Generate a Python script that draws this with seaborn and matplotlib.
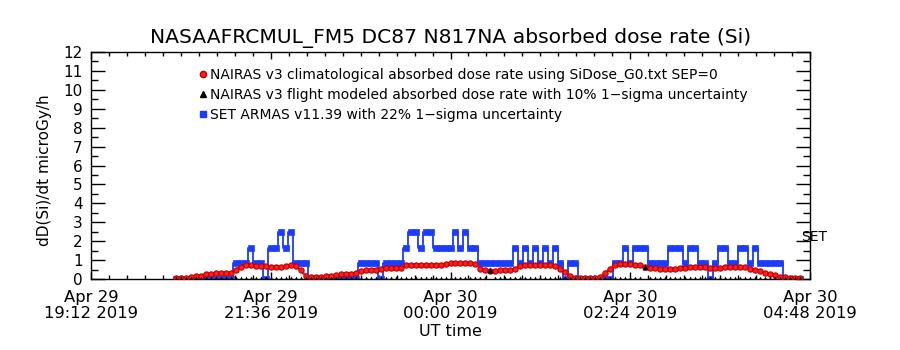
import numpy as np
import pandas as pd
import matplotlib
matplotlib.use("Agg")
import matplotlib.pyplot as plt
import matplotlib.dates as mdates
from matplotlib.ticker import FixedLocator, FixedFormatter, MultipleLocator
from matplotlib.lines import Line2D
import seaborn as sns

# ---------------- data ----------------
title = "NASAAFRCMUL_FM5 DC87 N817NA absorbed dose rate (Si)"
y_label = "dD(Si)/dt microGy/h"
x_label = "UT time"
legend_labels = [
    "NAIRAS v3 climatological absorbed dose rate using SiDose_G0.txt SEP=0",
    "NAIRAS v3 flight modeled absorbed dose rate with 10% 1\u2212sigma uncertainty",
    "SET ARMAS v11.39 with 22% 1\u2212sigma uncertainty",
]
x_start = "2019-04-29 19:12"
x_end = "2019-04-30 04:48"
tick_times = ["2019-04-29 19:12", "2019-04-29 21:36", "2019-04-30 00:00",
              "2019-04-30 02:24", "2019-04-30 04:48"]
tick_labels = ["Apr 29\n19:12 2019", "Apr 29\n21:36 2019", "Apr 30\n00:00 2019",
               "Apr 30\n02:24 2019", "Apr 30\n04:48 2019"]
y_ticks = list(range(0, 13))

sample_start = "2019-04-29 20:20"
sample_step = "4min"

nairas_clim = [
    0.03, 0.05, 0.07, 0.10, 0.14, 0.18, 0.24, 0.28, 0.30, 0.30,
    0.30, 0.33, 0.50, 0.66, 0.72, 0.72, 0.70, 0.68, 0.68, 0.66,
    0.64, 0.66, 0.70, 0.72, 0.68, 0.45, 0.18, 0.10, 0.10, 0.12,
    0.15, 0.18, 0.22, 0.26, 0.28, 0.28, 0.30, 0.40, 0.45, 0.45,
    0.46, 0.52, 0.58, 0.58, 0.58, 0.60, 0.72, 0.76, 0.76, 0.76,
    0.76, 0.76, 0.76, 0.76, 0.78, 0.84, 0.86, 0.86, 0.86, 0.86,
    0.80, 0.55, 0.46, 0.44, 0.44, 0.45, 0.46, 0.48, 0.55, 0.70,
    0.75, 0.74, 0.72, 0.74, 0.74, 0.72, 0.70, 0.55, 0.35, 0.15,
    0.06, 0.04, 0.04, 0.04, 0.05, 0.10, 0.30, 0.55, 0.74, 0.80,
    0.80, 0.78, 0.76, 0.72, 0.66, 0.58, 0.56, 0.54, 0.52, 0.52,
    0.55, 0.58, 0.60, 0.64, 0.66, 0.66, 0.62, 0.56, 0.56, 0.60,
    0.64, 0.66, 0.66, 0.66, 0.62, 0.52, 0.45, 0.40, 0.34, 0.28,
    0.20, 0.12, 0.08, 0.06, 0.06, 0.06,
]

nairas_flight = [
    0, 0, 0, 0, 0, 0, 0, 0, 0, 0,
    0, 0, 0, 0, 0, 0, 0, 0, 0, 0,
    0, 0, 0, 0, 0, 0, 0, 0, 0, 0,
    0, 0, 0, 0, 0, 0, 0, 0, 0, 0,
    0, 0, 0, 0, 0, 0, 0, 0, 0, 0,
    0, 0, 0, 0, 0, 0, 0, 0, 0, 0,
    0, 0, 0, 0.45, 0, 0, 0, 0, 0, 0,
    0, 0, 0, 0, 0, 0, 0, 0, 0, 0,
    0, 0, 0, 0, 0, 0, 0, 0, 0, 0,
    0, 0, 0, 0, 0.62, 0, 0, 0, 0, 0,
    0, 0, 0, 0, 0, 0, 0, 0, 0, 0,
    0, 0, 0, 0, 0, 0, 0, 0, 0, 0,
    0, 0, 0, 0, 0, 0,
]

set_armas = [
    0, 0, 0, 0, 0, 0, 0, 0, 0, 0,
    0, 0, 0.83, 0.83, 0.83, 1.66, 0.83, 0.83, 0, 1.66,
    1.66, 2.49, 1.66, 2.49, 0.83, 0.83, 0.83, 0, 0, 0,
    0, 0, 0, 0, 0, 0, 0, 0.83, 0.83, 0.83,
    0.83, 0, 0.83, 0.83, 0.83, 0.83, 1.66, 2.49, 2.49, 1.66,
    2.49, 2.49, 1.66, 1.66, 1.66, 1.66, 2.49, 1.66, 2.49, 1.66,
    1.66, 0.83, 0.83, 0.83, 0.83, 0.83, 0.83, 0.83, 1.66, 0.83,
    1.66, 0.83, 1.66, 0.83, 1.66, 0.83, 1.66, 0.83, 0, 0.83,
    0.83, 0, 0, 0, 0, 0, 0, 0, 0.83, 0.83,
    1.66, 0.83, 1.66, 1.66, 1.66, 0.83, 0.83, 0.83, 0.83, 1.66,
    1.66, 1.66, 0.83, 1.66, 1.66, 0.83, 0.83, 0, 0.83, 1.66,
    1.66, 0.83, 0.83, 1.66, 1.66, 0.83, 1.66, 0.83, 0.83, 0.83,
    0.83, 0.83, 0, 0, 0, 0,
]

set_label_text = "SET"
set_label_time = "2019-04-30 04:41"
set_label_y = 2.2

# ---------------- styling ----------------
RED = "#ff1e1e"
RED_EDGE = "#c00000"
BLUE = "#1a3cff"

times = pd.date_range(sample_start, periods=len(nairas_clim), freq=sample_step)
df = pd.DataFrame({"time": times, "clim": nairas_clim,
                   "flight": nairas_flight, "set": set_armas})

plt.rcParams["font.family"] = ["DejaVu Sans"]
fig = plt.figure(figsize=(9, 3.5), dpi=100)
ax = fig.add_axes([91 / 900, 71 / 350, 719 / 900, 227 / 350])

sns.lineplot(data=df, x="time", y="set", ax=ax, color=BLUE, lw=1.3,
             drawstyle="steps-mid",
             marker="s", markersize=5.0, markeredgecolor=BLUE,
             markerfacecolor=BLUE, markeredgewidth=0.5, legend=False, zorder=2)
sns.lineplot(data=df, x="time", y="clim", ax=ax, color=RED, lw=1.8,
             marker="o", markersize=3.8, markeredgecolor=RED_EDGE,
             markerfacecolor=RED, markeredgewidth=0.8, legend=False, zorder=3)
sns.scatterplot(data=df, x="time", y="flight", ax=ax, color="black",
                marker="^", s=18, edgecolor="black", linewidth=0,
                legend=False, zorder=4)

ax.set_xlim(pd.Timestamp(x_start), pd.Timestamp(x_end))
ax.set_ylim(0, 12)
ax.set_xlabel("")
ax.set_ylabel("")

ax.xaxis.set_major_locator(FixedLocator(mdates.date2num(pd.to_datetime(tick_times))))
ax.xaxis.set_major_formatter(FixedFormatter(tick_labels))
ax.xaxis.set_minor_locator(MultipleLocator(0.01))
ax.set_yticks(y_ticks)
ax.yaxis.set_minor_locator(MultipleLocator(0.5))

for s in ax.spines.values():
    s.set_linewidth(1.0)
    s.set_color("black")

ax.tick_params(which="both", direction="in", top=True, right=True, width=1.0, colors="black")
ax.tick_params(axis="y", which="major", length=10, pad=6, labelsize=11)
ax.tick_params(axis="y", which="minor", length=5)
ax.tick_params(axis="x", which="major", length=5, pad=8, labelsize=11.8)
ax.tick_params(axis="x", which="minor", length=3)
for lab in ax.get_xticklabels():
    lab.set_linespacing(1.1)

fig.text(451 / 900, 1 - 38 / 350, title, ha="center", va="center", fontsize=14.6)
fig.text(45 / 900, 1 - 170 / 350, y_label, ha="center", va="center", rotation=90, fontsize=11)
fig.text(450 / 900, 1 - 331 / 350, x_label, ha="center", va="center", fontsize=11.5)

ax.text(pd.Timestamp(set_label_time), set_label_y, set_label_text, ha="left",
        va="center", fontsize=10, clip_on=False)

handles = [
    Line2D([], [], marker="o", linestyle="none", markersize=4.5,
           markerfacecolor=RED, markeredgecolor=RED_EDGE),
    Line2D([], [], marker="^", linestyle="none", markersize=4.5,
           markerfacecolor="black", markeredgecolor="black"),
    Line2D([], [], marker="s", linestyle="none", markersize=4.5,
           markerfacecolor=BLUE, markeredgecolor=BLUE),
]
ax.legend(handles, legend_labels, loc="upper left",
          bbox_to_anchor=(200 / 900, 1 - 68 / 350), bbox_transform=fig.transFigure,
          frameon=False, fontsize=10, handlelength=0.5, handletextpad=0.2,
          labelspacing=0.42, borderpad=0, borderaxespad=0)

fig.savefig("out.png", dpi=100)
